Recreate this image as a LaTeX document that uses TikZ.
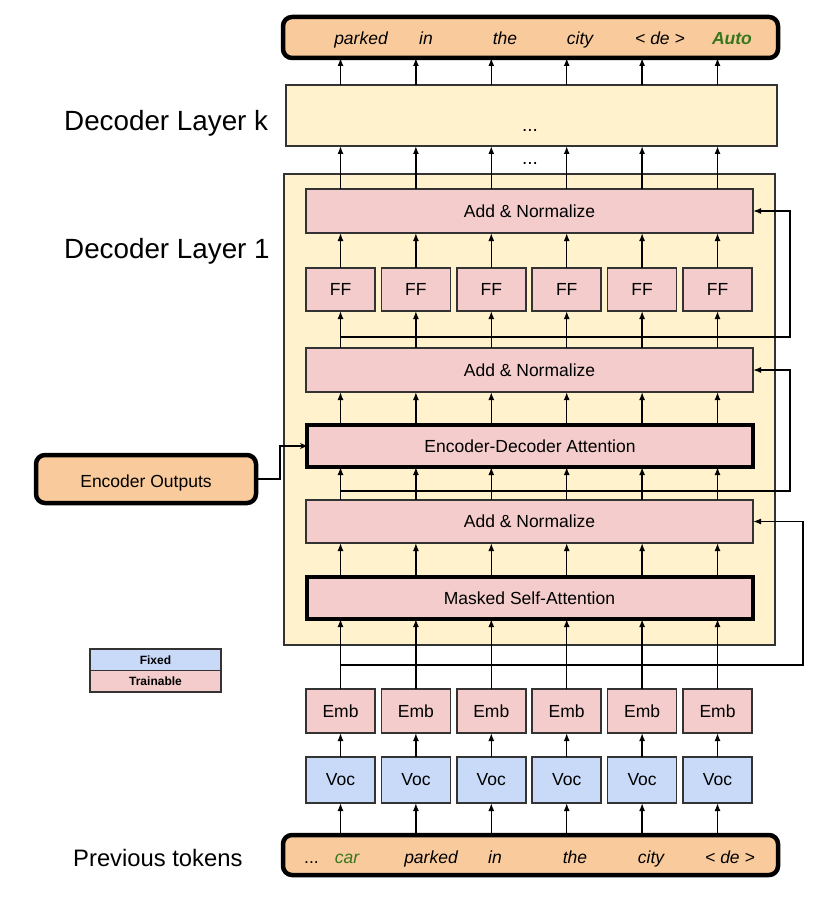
\documentclass[tikz,border=0pt]{standalone}
\usepackage{fontspec}
\setmainfont{Liberation Sans}
\usetikzlibrary{arrows.meta,calc}
\definecolor{tokorange}{HTML}{F9CB9C}
\definecolor{layyellow}{HTML}{FFF2CC}
\definecolor{trpink}{HTML}{F4CCCC}
\definecolor{fxblue}{HTML}{C9DAF8}
\definecolor{tokgreen}{HTML}{38761D}
\definecolor{edge}{HTML}{333333}
\tikzset{
  box/.style={draw=edge, line width=1.5pt, inner sep=0pt, outer sep=0pt, font=\fontsize{17.5}{20}\selectfont},
  pinkbox/.style={box, fill=trpink},
  bluebox/.style={box, fill=fxblue},
  thickbox/.style={pinkbox, draw=black, line width=4pt},
  layerbox/.style={box, fill=layyellow},
  tokbox/.style={draw=black, fill=tokorange, line width=4.5pt, rounded corners=9pt, inner sep=0pt, outer sep=0pt},
  tok/.style={font=\fontsize{17.5}{20}\selectfont\itshape, inner sep=0pt, anchor=base},
  arr/.style={line width=1.5pt, -{Latex[length=8pt,width=6pt]}},
  smallarr/.style={line width=1.5pt, -{Stealth[length=7pt,width=6pt]}},
  biglabel/.style={anchor=base west, inner sep=0pt, font=\fontsize{27.8}{30}\selectfont},
  legend/.style={box, font=\fontsize{12}{14}\selectfont\bfseries, minimum width=131pt, minimum height=21.5pt}
}
\begin{document}
\begin{tikzpicture}[x=1pt,y=-1pt]
\useasboundingbox (0,0) rectangle (830,904);

% column coordinates
\foreach \i in {1,...,6}{
  \coordinate (c\i) at ({340.5+75.4*(\i-1)}, 0);
}

% output token box
\node[tokbox, minimum width=495pt, minimum height=41pt] (out) at (530.5,37.5) {};
\node[tok] (o1) at (361,44.5) {parked};
\node[tok] (o2) at (426,44.5) {in};
\node[tok] (o3) at (505,44.5) {the};
\node[tok] (o4) at (580,44.5) {city};
\node[tok] (o5) at (660,44.5) {< de >};
\node[tok, text=tokgreen, font=\fontsize{17.5}{20}\selectfont\itshape\bfseries] (o6) at (732,44.5) {Auto};

% decoder layer k
\node[layerbox, minimum width=491pt, minimum height=61pt] (layk) at (531.5,115.5) {};
\node[inner sep=0pt, anchor=base, font=\fontsize{19}{20}\selectfont] (dotsk) at (530,132) {...};
\node[inner sep=0pt, anchor=base, font=\fontsize{19}{20}\selectfont] (dotsb) at (530,165) {...};

\node[biglabel] (lblk) at (64,131) {Decoder Layer k};
\node[biglabel] (lbl1) at (64,258) {Decoder Layer 1};

% decoder layer 1
\node[layerbox, minimum width=491pt, minimum height=471pt] (lay1) at (529.5,409.5) {};

\node[pinkbox, minimum width=447pt, minimum height=44pt] (an3) at (529.5,211) {Add \& Normalize};
\foreach \i in {1,...,6}{
  \node[pinkbox, minimum width=69pt, minimum height=43pt] (ff\i) at (c\i |- 0,289.5) {FF};
}
\node[pinkbox, minimum width=447pt, minimum height=44pt] (an2) at (529.5,370) {Add \& Normalize};
\node[thickbox, minimum width=446pt, minimum height=42pt] (eda) at (530,446) {Encoder-Decoder Attention};
\node[pinkbox, minimum width=447pt, minimum height=43pt] (an1) at (529.5,521.5) {Add \& Normalize};
\node[thickbox, minimum width=446pt, minimum height=42pt] (msa) at (529.5,598) {Masked Self-Attention};

% embeddings and vocab
\foreach \i in {1,...,6}{
  \node[pinkbox, minimum width=69pt, minimum height=44pt] (emb\i) at (c\i |- 0,711) {Emb};
  \node[bluebox, minimum width=69pt, minimum height=46pt] (voc\i) at (c\i |- 0,780) {Voc};
}

% input token box
\node[tokbox, minimum width=495pt, minimum height=40pt] (inp) at (530.5,855) {};
\node[tok, font=\fontsize{17.5}{20}\selectfont] (i0) at (311.5,863) {...};
\node[tok, text=tokgreen] (i1) at (347,863) {car};
\node[tok] (i2) at (431,863) {parked};
\node[tok] (i3) at (495,863) {in};
\node[tok] (i4) at (575,863) {the};
\node[tok] (i5) at (651,863) {city};
\node[tok] (i6) at (730,863) {< de >};
\node[anchor=base west, inner sep=0pt, font=\fontsize{23.8}{26}\selectfont] (prev) at (73,866.5) {Previous tokens};

% encoder outputs
\node[tokbox, minimum width=220pt, minimum height=48pt, font=\fontsize{17.5}{20}\selectfont, text height=16pt, text depth=0pt] (enc) at (146,479) {Encoder Outputs};

% legend
\node[legend, fill=fxblue] (lfix) at (155.5,659.75) {Fixed};
\node[legend, fill=trpink] (ltr) at (155.5,681.25) {Trainable};

% residual turn points
\coordinate (r3) at (790,337);
\coordinate (r2) at (790,491);
\coordinate (r1) at (803,665);

% vertical arrows
\foreach \i in {1,...,6}{
  \draw[arr] (layk.north -| c\i) -- (out.south -| c\i);
  \draw[arr] (an3.north -| c\i) -- (layk.south -| c\i);
  \draw[arr] (ff\i) -- (an3.south -| c\i);
  \draw[arr] (an2.north -| c\i) -- (ff\i);
  \draw[arr] (eda.north -| c\i) -- (an2.south -| c\i);
  \draw[arr] (an1.north -| c\i) -- (eda.south -| c\i);
  \draw[arr] (msa.north -| c\i) -- (an1.south -| c\i);
  \draw[arr] (emb\i) -- (msa.south -| c\i);
  \draw[arr] (voc\i) -- (emb\i);
  \draw[arr] (inp.north -| c\i) -- (voc\i);
}

% residual connections
\draw[arr] (c1 |- r3) -- (r3) |- (an3.east);
\draw[arr] (c1 |- r2) -- (r2) |- (an2.east);
\draw[arr] (c1 |- r1) -- (r1) |- (an1.east);

% encoder outputs to encoder-decoder attention
\draw[smallarr] (enc.east) -- (280,479) |- (eda.west);
\end{tikzpicture}
\end{document}
